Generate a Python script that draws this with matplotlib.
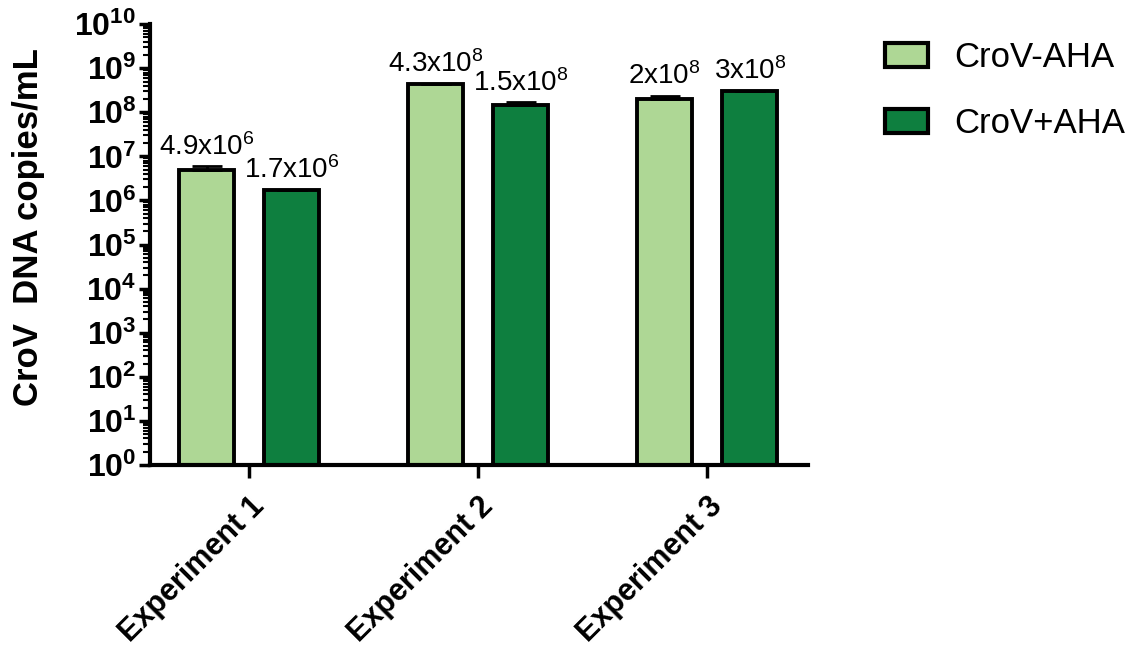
import matplotlib.pyplot as plt
import matplotlib.patches as patches
import numpy as np
from matplotlib import rcParams
from matplotlib.ticker import FixedLocator, FixedFormatter, LogLocator, NullFormatter

rcParams['font.family'] = ['Liberation Sans', 'DejaVu Sans']
rcParams['mathtext.fontset'] = 'custom'
rcParams['mathtext.rm'] = 'Liberation Sans'
rcParams['mathtext.bf'] = 'Liberation Sans:bold'
rcParams['mathtext.it'] = 'Liberation Sans:italic'

# data
experiments = ['Experiment 1', 'Experiment 2', 'Experiment 3']
series = ['CroV-AHA', 'CroV+AHA']
minus_aha = [4.9e6, 4.3e8, 2.0e8]
plus_aha = [1.7e6, 1.5e8, 3.0e8]
minus_err = [1.1e6, 0.2e8, 0.4e8]
plus_err = [0.05e6, 0.2e8, 0.1e8]
minus_labels = ['4.9x10$^{6}$', '4.3x10$^{8}$', '2x10$^{8}$']
plus_labels = ['1.7x10$^{6}$', '1.5x10$^{8}$', '3x10$^{8}$']

colors = ['#aed795', '#0e7f3f']

fig = plt.figure(figsize=(11.38, 6.53), dpi=100)
ax = fig.add_axes([0.132, 0.288, 0.578, 0.675])

x = np.arange(len(experiments))
w = 0.24
off = 0.186
ekw = dict(ecolor='black', elinewidth=2, capsize=11, capthick=2)

ax.bar(x - off, minus_aha, w, color=colors[0], edgecolor='black', linewidth=2.8,
       yerr=[np.zeros(3), minus_err], error_kw=ekw, zorder=2)
ax.bar(x + off, plus_aha, w, color=colors[1], edgecolor='black', linewidth=2.8,
       yerr=[np.zeros(3), plus_err], error_kw=ekw, zorder=2)

ax.set_yscale('log')
ax.set_ylim(1, 1e10)
ax.set_xlim(-0.432, 2.44)

# value labels above the bars
for xs, vals, errs, labs in [(x - off, minus_aha, minus_err, minus_labels),
                             (x + off, plus_aha, plus_err, plus_labels)]:
    for xi, v, e, lab in zip(xs, vals, errs, labs):
        ax.annotate(lab, (xi, v + e), xytext=(0, 4), textcoords='offset points',
                    ha='center', va='bottom', fontsize=20)

# axes styling
for s in ['top', 'right']:
    ax.spines[s].set_visible(False)
for s in ['left', 'bottom']:
    ax.spines[s].set_linewidth(3)

decades = [10.0 ** k for k in range(11)]
ax.yaxis.set_major_locator(FixedLocator(decades))
ax.yaxis.set_major_formatter(FixedFormatter([r'$\mathbf{10^{%d}}$' % k for k in range(11)]))
ax.yaxis.set_minor_locator(LogLocator(base=10, subs=np.arange(2, 10), numticks=100))
ax.yaxis.set_minor_formatter(NullFormatter())
ax.tick_params(axis='y', which='major', length=8, width=2.5, labelsize=23, pad=2)
ax.tick_params(axis='y', which='minor', length=5, width=1.5)

ax.set_xticks(x)
ax.set_xticklabels(experiments, rotation=45, ha='right', rotation_mode='anchor',
                   fontsize=22, fontweight='bold')
ax.tick_params(axis='x', length=9, width=2.5, pad=10)

ax.set_ylabel('CroV  DNA copies/mL', fontsize=25, fontweight='bold')
ax.yaxis.set_label_coords(-0.16, 0.54)

# legend
handles = [patches.Patch(facecolor=c, edgecolor='black', linewidth=3) for c in colors]
fig.legend(handles, series, loc='upper left', bbox_to_anchor=(885 / 1138, 1 - 41 / 653),
           frameon=False, fontsize=25, handlelength=1.24, handleheight=0.66,
           labelspacing=0.95, handletextpad=0.75, borderpad=0, borderaxespad=0)

plt.savefig('out.png', dpi=100, facecolor='white')
